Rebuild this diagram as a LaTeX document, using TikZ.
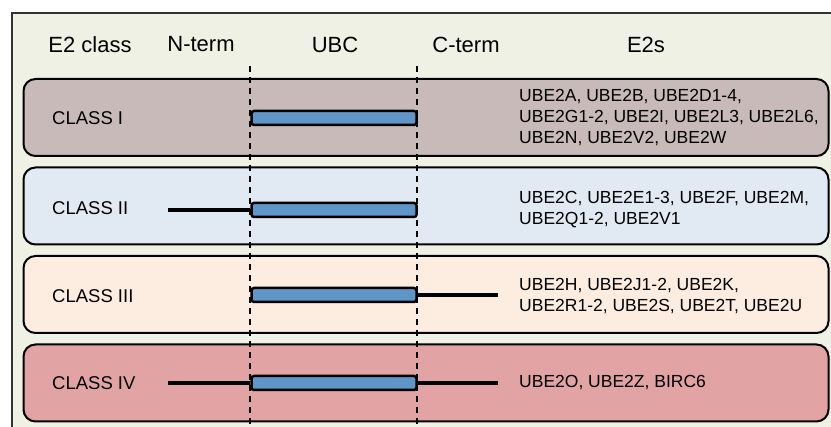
\documentclass[tikz,border=0pt]{standalone}
\usepackage{fontspec}
\setmainfont{Liberation Sans}
\usepackage{xcolor}
\usetikzlibrary{positioning}

\definecolor{paneBg}{RGB}{238,241,227}
\definecolor{classOne}{RGB}{200,186,184}
\definecolor{classTwo}{RGB}{225,233,243}
\definecolor{classThree}{RGB}{253,237,224}
\definecolor{classFour}{RGB}{225,163,163}
\definecolor{ubcBlue}{RGB}{96,149,200}

\begin{document}
\begin{tikzpicture}[
    x=1pt, y=-1pt,
    head/.style={font=\fontsize{22}{26}\selectfont, inner sep=0pt},
    lab/.style={font=\fontsize{18.5}{22}\selectfont, inner sep=0pt, anchor=west},
    txt/.style={font=\fontsize{17.5}{21}\selectfont, inner sep=0pt, anchor=west, align=left},
    classbox/.style={draw, line width=2pt, rounded corners=12pt, minimum width=805pt, minimum height=77pt, inner sep=0pt},
    ubc/.style={draw, line width=2.5pt, fill=ubcBlue, rounded corners=2.5pt, minimum width=165pt, minimum height=14pt, inner sep=0pt},
    tail/.style={line width=4pt},
    divider/.style={line width=1.5pt, dash pattern=on 6pt off 5pt}
]
\useasboundingbox (0,0) rectangle (831,427);
\fill[white] (0,0) rectangle (831,427);
\draw[fill=paneBg, draw=black!80, line width=1.5pt] (12,13) rectangle (850,450);

% header
\node[head] (hclass) at (90,44.5) {E2 class};
\node[head] (hnterm) at (201,44.5) {N-term};
\node[head] (hubc) at (335,44.5) {UBC};
\node[head] (hcterm) at (466,44.5) {C-term};
\node[head] (he2s) at (646,44.5) {E2s};

% class rows
\node[classbox, fill=classOne] (row1) at (426,117.5) {};
\node[classbox, fill=classTwo] (row2) at (426,206) {};
\node[classbox, fill=classThree] (row3) at (426,294.5) {};
\node[classbox, fill=classFour] (row4) at (426,383) {};

% dividers
\coordinate (ntop) at (250,66);
\coordinate (nbot) at (250,427);
\coordinate (ctop) at (417,66);
\coordinate (cbot) at (417,427);
\draw[divider] (ntop) -- (nbot);
\draw[divider] (ctop) -- (cbot);

% labels
\node[lab] (lab1) at (52,118) {CLASS I};
\node[lab] (lab2) at (52,208.5) {CLASS II};
\node[lab] (lab3) at (52,296) {CLASS III};
\node[lab] (lab4) at (52,383) {CLASS IV};

% UBC domains
\node[ubc] (ubc1) at (334,118) {};
\node[ubc] (ubc2) at (334,210) {};
\node[ubc] (ubc3) at (334,295) {};
\node[ubc] (ubc4) at (334,383) {};

% termini
\coordinate (n2) at (168,210);
\coordinate (c3) at (498,295);
\coordinate (n4) at (168,383);
\coordinate (c4) at (498,383);
\draw[tail] (n2) -- (ubc2.west);
\draw[tail] (ubc3.east) -- (c3);
\draw[tail] (n4) -- (ubc4.west);
\draw[tail] (ubc4.east) -- (c4);

% E2 members
\node[txt] (e2s1) at (519,118) {UBE2A, UBE2B, UBE2D1-4,\\UBE2G1-2, UBE2I, UBE2L3, UBE2L6,\\UBE2N, UBE2V2, UBE2W};
\node[txt] (e2s2) at (519,209.5) {UBE2C, UBE2E1-3, UBE2F, UBE2M,\\UBE2Q1-2, UBE2V1};
\node[txt] (e2s3) at (519,296) {UBE2H, UBE2J1-2, UBE2K,\\UBE2R1-2, UBE2S, UBE2T, UBE2U};
\node[txt] (e2s4) at (519,383) {UBE2O, UBE2Z, BIRC6};
\end{tikzpicture}
\end{document}
